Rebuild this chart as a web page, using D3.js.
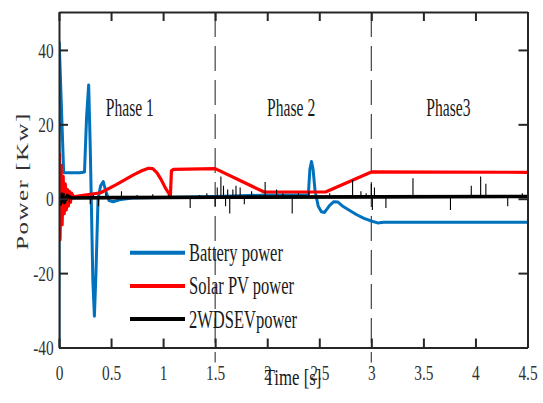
<!DOCTYPE html>
<html><head><meta charset="utf-8">
<script src="https://cdn.jsdelivr.net/npm/d3@7"></script>
<style>
html,body{margin:0;padding:0;background:#fff;}
svg{display:block;font-family:"Liberation Serif","Times New Roman",serif;}
</style></head>
<body><svg id="chart" width="543" height="403"></svg>
<script>
// ---------- DATA ----------
const xTicks = [0, 0.5, 1, 1.5, 2, 2.5, 3, 3.5, 4, 4.5];
const xTickLabels = ["0", "0.5", "1", "1.5", "2", "2.5", "3", "3.5", "4", "4.5"];
const yTicks = [-40, -20, 0, 20, 40];
const yTickLabels = ["-40", "-20", "0", "20", "40"];
const phaseBounds = [1.5, 3];
const phaseLabels = [
  {t: 0.68, text: "Phase 1"},
  {t: 2.23, text: "Phase 2"},
  {t: 3.74, text: "Phase3"}
];
const seriesNames = ["Battery power", "Solar PV power", "2WDSEVpower"];
const seriesColors = ["#0072BD", "#FF0000", "#000000"];

// Battery power [t (s), P (kW)]
const battery = [
  [0, -40], [0.002, 42], [0.045, 7], [0.1, 7], [0.2, 7], [0.245, 7.2],
  [0.265, 22], [0.285, 30.6], [0.3, 14], [0.31, 0], [0.325, -22], [0.34, -31.6],
  [0.355, -20], [0.375, 0], [0.4, 3.5], [0.425, 4.6], [0.45, 2], [0.48, -0.5],
  [0.52, -0.8], [0.58, -0.3], [0.7, 0.2], [1.0, 0.3], [1.5, 0.6], [2.0, 1.0],
  [2.395, 1.1], [2.41, 8], [2.425, 10], [2.44, 8], [2.46, 2], [2.49, -2],
  [2.52, -3.5], [2.55, -3.7], [2.6, -1.8], [2.64, -0.8], [2.68, -0.9],
  [2.73, -2.1], [2.8, -3.3], [2.86, -4.3], [2.93, -5.3], [3.0, -6.0],
  [3.06, -6.5], [3.12, -6.3], [4.5, -6.3]
];

// Solar PV power
const solar = [
  [0, 0], [0.005, 12], [0.01, -11], [0.02, 9], [0.03, -7], [0.04, 6], [0.05, -4],
  [0.06, 4], [0.07, -3], [0.08, 2.5], [0.09, -2], [0.1, 2], [0.11, -1], [0.12, 1.5],
  [0.14, 0.5], [0.2, 0.8], [0.4, 1.6], [0.55, 3.8], [0.715, 6.4], [0.8, 7.6],
  [0.86, 8.2], [0.9, 8.1], [0.94, 7.0], [0.98, 5.2], [1.02, 3.0], [1.06, 1.2],
  [1.07, 0.8], [1.08, 7.5], [1.1, 7.9], [1.5, 8.1], [1.97, 1.8], [2.56, 1.8],
  [3.0, 7.2], [4.5, 7.1]
];

// 2WDSEV power: base trace and spikes
const ev = [
  [0, 0], [0.01, -1.5], [0.03, 1.2], [0.05, -1], [0.08, 0.8], [0.12, 0.2],
  [0.5, 0.3], [1.5, 0.4], [3.0, 0.5], [4.5, 0.6]
];
const evSpikes = [
  [0.02, -1.5], [0.05, 1.5], [0.1, -1], [0.3, -1.5], [0.33, 1], [0.38, -2],
  [0.45, 1.5], [0.6, 2], [0.75, 1], [0.9, 1.2], [1.05, 1], [1.26, -2.5],
  [1.35, 1], [1.42, 1.5], [1.5, -2], [1.52, 3], [1.555, 6], [1.58, 3.5],
  [1.6, -2], [1.62, 2.5], [1.64, -4], [1.67, 2.5], [1.7, 3.5], [1.74, 3],
  [1.78, -1.5], [1.85, 2], [1.98, 4.5], [2.09, 2.5], [2.15, 1.5], [2.24, -4],
  [2.3, 1.5], [2.4, 2], [2.6, 1.5], [2.7, 1], [2.82, 5], [2.9, 2], [2.95, 1.5],
  [3.0, 4], [3.01, -3], [3.03, 3], [3.14, -2.5], [3.4, 5.5], [3.55, 1],
  [3.76, -3], [3.96, 3.5], [4.05, 6], [4.1, 4], [4.31, -2], [4.45, 1.5]
];

// ---------- LAYOUT ----------
const svg = d3.select("#chart");
const L = 59, T = 12, R = 527.5, B = 347.5;
const W = R - L, H = B - T;
const x = d3.scaleLinear().domain([0, 4.5]).range([0, W]);
const y = d3.scaleLinear().domain([-40, 50.2]).range([H, 0]);
const SX = 0.7;
const axisColor = "#262626";

const g = svg.append("g").attr("transform", `translate(${L},${T})`);

svg.append("defs").append("clipPath").attr("id", "clip")
  .append("rect").attr("x", 0).attr("y", 0).attr("width", W).attr("height", H);

// phase dashed lines
g.selectAll("line.phase").data(phaseBounds).enter().append("line")
  .attr("class", "phase")
  .attr("x1", d => x(d)).attr("x2", d => x(d))
  .attr("y1", 0).attr("y2", H + 15)
  .attr("stroke", "#444").attr("stroke-width", 1.2)
  .attr("stroke-dasharray", "25,9");

// data lines
const line = d3.line().x(d => x(d[0])).y(d => y(d[1]));
const plot = g.append("g").attr("clip-path", "url(#clip)");
plot.append("path").datum(battery).attr("d", line)
  .attr("fill", "none").attr("stroke", seriesColors[0]).attr("stroke-width", 3)
  .attr("stroke-linejoin", "round");
plot.append("path").datum(solar).attr("d", line)
  .attr("fill", "none").attr("stroke", seriesColors[1]).attr("stroke-width", 3.2)
  .attr("stroke-linejoin", "round");
plot.selectAll("line.spike").data(evSpikes).enter().append("line")
  .attr("class", "spike")
  .attr("x1", d => x(d[0])).attr("x2", d => x(d[0]))
  .attr("y1", y(0.5)).attr("y2", d => y(d[1]))
  .attr("stroke", "#000").attr("stroke-width", 1.1);
plot.append("path").datum(ev).attr("d", line)
  .attr("fill", "none").attr("stroke", seriesColors[2]).attr("stroke-width", 3.6)
  .attr("stroke-linejoin", "round");

// axes
function styleAxis(sel) {
  sel.select(".domain").attr("stroke", axisColor).attr("stroke-width", 2);
  sel.selectAll(".tick line").attr("stroke", axisColor).attr("stroke-width", 2);
}
const xb = g.append("g").attr("transform", `translate(0,${H})`)
  .call(d3.axisBottom(x).tickValues(xTicks).tickSize(-9).tickSizeOuter(0)
    .tickFormat((d, i) => xTickLabels[i]));
styleAxis(xb);
xb.selectAll(".tick text").attr("y", 33).attr("dy", 0)
  .attr("transform", `scale(${SX},1)`)
  .attr("font-size", 22).attr("fill", "#333")
  .attr("font-family", "Liberation Serif");

const xt = g.append("g")
  .call(d3.axisTop(x).tickValues(xTicks).tickSize(-9).tickSizeOuter(0).tickFormat(""));
styleAxis(xt);

const yl = g.append("g")
  .call(d3.axisLeft(y).tickValues(yTicks).tickSize(-9).tickSizeOuter(0)
    .tickFormat((d, i) => yTickLabels[i]));
styleAxis(yl);
yl.selectAll(".tick text").attr("x", -7.5).attr("dy", "0.33em")
  .attr("transform", `scale(${SX},1)`)
  .attr("font-size", 22).attr("fill", "#333")
  .attr("font-family", "Liberation Serif");

const yr = g.append("g").attr("transform", `translate(${W},0)`)
  .call(d3.axisRight(y).tickValues(yTicks).tickSize(-9).tickSizeOuter(0).tickFormat(""));
styleAxis(yr);

// phase labels
g.selectAll("text.phaselbl").data(phaseLabels).enter().append("text")
  .attr("class", "phaselbl")
  .attr("transform", d => `translate(${x(d.t)},${104}) scale(0.6,1)`)
  .attr("text-anchor", "middle").attr("font-size", 26).attr("fill", "#1a1a1a")
  .text(d => d.text);

// legend
const leg = g.append("g").attr("transform", `translate(${130 - L},${252.7 - T})`);
seriesNames.forEach((name, i) => {
  const row = leg.append("g").attr("transform", `translate(0,${i * 33.2})`);
  row.append("line").attr("x1", 0).attr("x2", 55).attr("y1", 0).attr("y2", 0)
    .attr("stroke", seriesColors[i]).attr("stroke-width", 4);
  row.append("text").attr("transform", `translate(59,8.5) scale(0.66,1)`)
    .attr("font-size", 25).attr("fill", "#1a1a1a").text(name);
});

// axis titles
svg.append("text")
  .attr("transform", `translate(293,385) scale(0.7,1)`)
  .attr("text-anchor", "middle").attr("font-size", 24).attr("fill", "#1a1a1a")
  .text("Time [s]");
svg.append("text")
  .attr("transform", `translate(28,181) scale(0.7,1) rotate(-90)`)
  .attr("text-anchor", "middle").attr("font-size", 25).attr("fill", "#333")
  .attr("letter-spacing", 1.5)
  .text("Power  [Kw]");
</script>
</body></html>
